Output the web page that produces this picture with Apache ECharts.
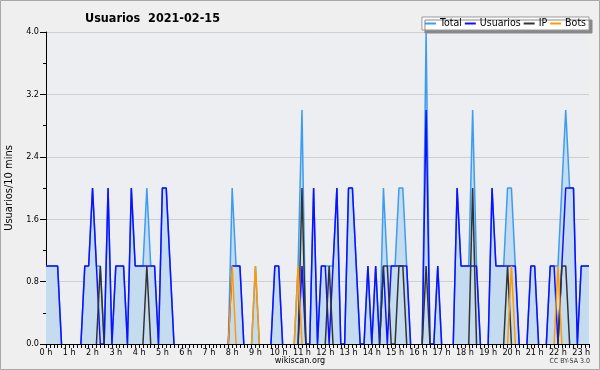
<!DOCTYPE html>
<html><head><meta charset="utf-8">
<script src="https://cdn.jsdelivr.net/npm/echarts@6/dist/echarts.min.js"></script>
<style>html,body{margin:0;padding:0;background:#efefef}#c{width:600px;height:370px}</style>
</head><body><div id="c"></div>
<script>
// 10-minute slots from 00:00 to 23:20
const usuarios = [1,1,1,1,0,0,0,0,0,0, 1,1,2,1,0,0,2,0,1,1, 1,0,2,1,1,1,1,1,1,0,
  2,2,1,0,0,0,0,0,0,0, 0,0,0,0,0,0,0,0,1,1, 1,0,0,0,0,0,0,0,0,1,
  1,0,0,0,0,0,1,0,0,2, 0,1,1,0,1,2,0,0,2,2, 1,0,0,1,0,1,0,1,0,1,
  1,1,1,1,0,0,0,0,3,0, 0,1,0,0,0,0,2,1,1,1, 1,1,0,0,0,2,1,1,1,1,
  1,1,0,0,0,1,1,0,0,0, 1,1,0,1,2,2,2,0,1,1, 1];
const ip = [0,0,0,0,0,0,0,0,0,0, 0,0,0,0,1,0,0,0,0,0, 0,0,0,0,0,0,1,0,0,0,
  0,0,0,0,0,0,0,0,0,0, 0,0,0,0,0,0,0,0,0,0, 0,0,0,0,0,0,0,0,0,0,
  0,0,0,0,0,0,2,0,0,0, 0,0,0,1,0,0,0,0,0,0, 0,0,0,0,0,0,0,1,1,0,
  0,1,1,0,0,0,0,0,1,0, 0,0,0,0,0,0,0,0,0,0, 2,0,0,0,0,0,0,0,0,1,
  0,0,0,0,0,0,0,0,0,0, 0,0,0,1,1,0,0,0,0,0, 0];
const bots = [0,0,0,0,0,0,0,0,0,0, 0,0,0,0,0,0,0,0,0,0, 0,0,0,0,0,0,0,0,0,0,
  0,0,0,0,0,0,0,0,0,0, 0,0,0,0,0,0,0,0,1,0, 0,0,0,0,1,0,0,0,0,0,
  0,0,0,0,0,1,0,0,0,0, 0,0,0,0,0,0,0,0,0,0, 0,0,0,0,0,0,0,0,0,0,
  0,0,0,0,0,0,0,0,0,0, 0,0,0,0,0,0,0,0,0,0, 0,0,0,0,0,0,0,0,0,0,
  1,0,0,0,0,0,0,0,0,0, 0,0,1,0,0,0,0,0,0,0, 0];
const total = usuarios.map((u, i) => u + ip[i] + bots[i]);
const slots = usuarios.map((_, i) => Math.floor(i / 6) + ':' + String((i % 6) * 10).padStart(2, '0'));
const yTicks = ['0.0','0.8','1.6','2.4','3.2','4.0'];
const seriesNames = ['Total','Usuarios','IP','Bots'];

// hide flat runs lying on the zero baseline (they sit under the axis line in the original)
const onAxis = (arr) => arr.map((v, i) =>
  (v === 0 && (i === 0 || arr[i-1] === 0) && (i === arr.length-1 || arr[i+1] === 0)) ? null : v);

const FONT = "'DejaVu Sans Condensed','DejaVu Sans',sans-serif";
const chart = echarts.init(document.getElementById('c'), null, {renderer:'canvas'});
const lineS = (name, data, color, z, extra) => Object.assign({
  name, type:'line', data: onAxis(data), symbol:'none', showSymbol:false, z,
  connectNulls:false,
  lineStyle:{color, width:1.5}, itemStyle:{color}, animation:false
}, extra||{});
chart.setOption({
  backgroundColor:'#efefef',
  animation:false,
  title:{text:'Usuarios  2021-02-15', left:80, top:7,
    textStyle:{fontFamily:FONT, fontSize:12.5, fontWeight:'bold', color:'#000'}},
  legend:{data:seriesNames, right:11, top:17, orient:'horizontal',
    backgroundColor:'#fff', borderColor:'#999', borderWidth:1, padding:[1,3,1,3],
    shadowColor:'#888', shadowBlur:0, shadowOffsetX:3, shadowOffsetY:3,
    itemGap:3, itemWidth:11, itemHeight:2, icon:'rect',
    textStyle:{fontFamily:FONT, fontSize:10.5, color:'#000', padding:[0,0,0,-1]}},
  grid:{left:46, right:11, top:32, bottom:26, show:true, backgroundColor:'#edeef1', borderWidth:0,
    containLabel:false, outerBoundsMode:'none'},
  xAxis:{type:'category', data:slots, boundaryGap:false, z:10,
    axisLine:{lineStyle:{color:'#000', width:1}},
    axisTick:{show:true, interval:0, length:4, lineStyle:{color:'#000'}},
    axisLabel:{interval:5, margin:4, fontFamily:FONT, fontSize:9, color:'#000',
      formatter:(v)=> v.split(':')[0] + ' h'},
    splitLine:{show:false}},
  yAxis:{type:'value', min:0, max:4, interval:0.8,
    name:'Usuarios/10 mins', nameLocation:'middle', nameGap:31, nameRotate:90,
    nameTextStyle:{fontFamily:FONT, fontSize:11, color:'#000'},
    axisLine:{show:true, lineStyle:{color:'#000'}},
    axisTick:{show:true, length:6, lineStyle:{color:'#000'}},
    minorTick:{show:true, splitNumber:2, length:3, lineStyle:{color:'#000'}},
    axisLabel:{fontFamily:FONT, fontSize:9, color:'#000', margin:7,
      formatter:(v)=> yTicks[Math.round(v/0.8)]},
    splitLine:{show:true, lineStyle:{color:'#cfcfcf', width:1}}},
  series:[
    lineS('Total', total, '#3b9cf0', 2, {areaStyle:{color:'#c5dcf0', opacity:1}}),
    lineS('Usuarios', usuarios, '#1010ff', 3),
    lineS('IP', ip, '#333333', 4),
    lineS('Bots', bots, '#ff9a00', 5)
  ],
  graphic:[
    {type:'rect', shape:{x:0.5, y:0.5, width:599, height:369}, style:{fill:'none', stroke:'#a8a8a8', lineWidth:1}, z:100},
    {type:'text', left:'center', top:356, style:{text:'wikiscan.org', font:"9px "+FONT, fill:'#000'}},
    {type:'text', right:10, top:358, style:{text:'CC BY-SA 3.0', font:"7px "+FONT, fill:'#333'}}
  ]
});
</script></body></html>
